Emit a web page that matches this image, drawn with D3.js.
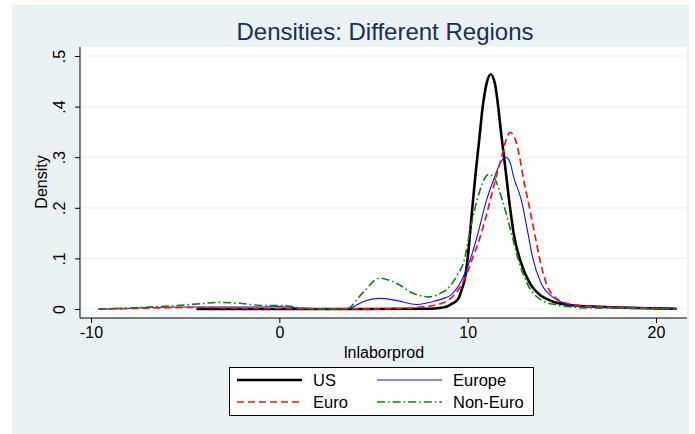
<!DOCTYPE html>
<html>
<head>
<meta charset="utf-8">
<script src="https://cdn.jsdelivr.net/npm/d3@7/dist/d3.min.js"></script>
<style>
  body { margin: 0; background: #ffffff; }
  svg { display: block; font-family: "Liberation Sans", Arial, Helvetica, sans-serif; }
</style>
</head>
<body>
<svg id="chart" width="695" height="434"></svg>
<script>
// ---------------- data ----------------
const seriesNames = ["US", "Europe", "Euro", "Non-Euro"];

const usX = [-4.4, 0, 4, 8, 8.5, 8.9, 9.2, 9.5, 9.7, 9.85, 10.0, 10.2, 10.4, 10.6, 10.8, 11.0, 11.22, 11.45, 11.62, 11.8, 11.95, 12.2, 12.44, 12.8, 13.3, 13.9, 14.5, 15.2, 16, 17, 18, 19, 20, 21.1];
const usY = [0, 0, 0, 0.0005, 0.002, 0.005, 0.011, 0.02, 0.04, 0.06, 0.1, 0.18, 0.26, 0.33, 0.4, 0.445, 0.464, 0.445, 0.4, 0.34, 0.295, 0.215, 0.15, 0.095, 0.051, 0.026, 0.015, 0.009, 0.006, 0.0045, 0.003, 0.002, 0.0012, 0.0005];

const europeX = [-9.6, -8, -7, -5, -3, -1, 0, 0.5, 1, 2, 3.6, 4.45, 5.3, 6.2, 7.3, 8.3, 8.8, 9.05, 9.3, 9.58, 9.9, 10.2, 10.55, 11.0, 11.43, 11.75, 12.02, 12.25, 12.44, 12.85, 13.2, 13.46, 13.9, 14.5, 15.2, 16, 17, 18, 19, 20, 21.1];
const europeY = [0, 0.001, 0.003, 0.004, 0.004, 0.004, 0.005, 0.004, 0.002, 0.001, 0.0005, 0.0145, 0.021, 0.017, 0.009, 0.016, 0.022, 0.026, 0.035, 0.05, 0.075, 0.105, 0.15, 0.215, 0.261, 0.29, 0.3, 0.29, 0.261, 0.215, 0.15, 0.1, 0.051, 0.024, 0.011, 0.006, 0.004, 0.003, 0.002, 0.0012, 0.0005];

const euroX = [-9.6, -8, -6.5, -5, -4, -3, -2, -1, 0, 1, 2, 4, 6, 7.3, 8.3, 9.0, 9.5, 9.9, 10.25, 10.73, 11.2, 11.5, 11.8, 12.03, 12.25, 12.48, 12.76, 13.0, 13.2, 13.55, 13.82, 14.17, 14.7, 15.3, 16, 17, 18, 19, 20, 21.1];
const euroY = [0, 0.001, 0.002, 0.003, 0.003, 0.002, 0.0015, 0.001, 0.001, 0.0005, 0.0003, 0.0003, 0.0005, 0.003, 0.008, 0.018, 0.038, 0.065, 0.1, 0.15, 0.215, 0.26, 0.3, 0.333, 0.349, 0.34, 0.3, 0.25, 0.215, 0.15, 0.1, 0.051, 0.021, 0.011, 0.006, 0.004, 0.003, 0.002, 0.0012, 0.0005];

const nonEuroX = [-9.6, -8, -7.4, -6.3, -5, -4, -3.2, -2, -1, 0, 0.5, 1.1, 2, 3.56, 4.45, 5.32, 6.22, 7.1, 7.98, 8.5, 8.87, 9.4, 9.84, 10.1, 10.5, 10.8, 11.13, 11.4, 11.84, 12.32, 12.67, 13.15, 13.9, 14.7, 15.5, 16.5, 18, 20, 21.1];
const nonEuroY = [0, 0.002, 0.003, 0.005, 0.008, 0.011, 0.013, 0.011, 0.007, 0.007, 0.006, 0.002, 0.0005, 0.0005, 0.033, 0.061, 0.051, 0.031, 0.024, 0.03, 0.038, 0.064, 0.1, 0.15, 0.215, 0.25, 0.266, 0.26, 0.215, 0.15, 0.1, 0.051, 0.018, 0.008, 0.004, 0.002, 0.0015, 0.001, 0.0005];

const xTicks = [-10, 0, 10, 20];
const xTickLabels = ["-10", "0", "10", "20"];
const yTicks = [0, 0.1, 0.2, 0.3, 0.4, 0.5];
const yTickLabels = ["0", ".1", ".2", ".3", ".4", ".5"];

const titleText = "Densities: Different Regions";
const xTitle = "lnlaborprod";
const yTitle = "Density";

// ---------------- layout ----------------
const svg = d3.select("#chart");
const bg = "#EAF2F3";
const plotL = 80, plotR = 687, plotT = 47, plotB = 318;

svg.append("rect").attr("x", 12).attr("y", 5).attr("width", 677).attr("height", 429).attr("fill", bg);
svg.append("rect").attr("x", plotL).attr("y", plotT).attr("width", plotR - plotL).attr("height", plotB - plotT).attr("fill", "#ffffff");

const x = d3.scaleLinear().domain([-10, 20]).range([91, 656]);
const y = d3.scaleLinear().domain([0, 0.5]).range([309, 56]);

// grid
svg.append("g").selectAll("line").data(yTicks).join("line")
  .attr("x1", plotL).attr("x2", plotR)
  .attr("y1", d => y(d)).attr("y2", d => y(d))
  .attr("stroke", bg).attr("stroke-width", 1.2);

// series
const series = [
  { name: seriesNames[0], xs: usX, ys: usY, color: "#000000", width: 2.6, dash: null },
  { name: seriesNames[1], xs: europeX, ys: europeY, color: "#1010ff", width: 1.1, dash: null },
  { name: seriesNames[2], xs: euroX, ys: euroY, color: "#ff1010", width: 1.7, dash: "7,4" },
  { name: seriesNames[3], xs: nonEuroX, ys: nonEuroY, color: "#108010", width: 1.6, dash: "8,3,1.6,3" }
];

const line = d3.line().x(d => x(d[0])).y(d => y(d[1])).curve(d3.curveMonotoneX);

svg.append("g").selectAll("path").data(series).join("path")
  .attr("d", s => line(s.xs.map((v, i) => [v, s.ys[i]])))
  .attr("fill", "none")
  .attr("stroke", s => s.color)
  .attr("stroke-width", s => s.width)
  .attr("stroke-dasharray", s => s.dash)
  .attr("stroke-linejoin", "round");

// axes
const xAxis = d3.axisBottom(x).tickValues(xTicks).tickFormat((d, i) => xTickLabels[i]).tickSize(5).tickSizeOuter(0);
const gx = svg.append("g").attr("transform", `translate(0,${plotB})`).call(xAxis);
gx.select(".domain").remove();
gx.selectAll(".tick line").attr("stroke", "#000");
gx.selectAll(".tick text").attr("font-size", 16).attr("fill", "#000").attr("y", 9).attr("dy", "0.71em");

const yAxis = d3.axisLeft(y).tickValues(yTicks).tickFormat((d, i) => yTickLabels[i]).tickSize(5).tickSizeOuter(0);
const gy = svg.append("g").attr("transform", `translate(${plotL},0)`).call(yAxis);
gy.select(".domain").remove();
gy.selectAll(".tick line").attr("stroke", "#000");
gy.selectAll(".tick text")
  .attr("font-size", 16).attr("fill", "#000")
  .attr("text-anchor", "middle")
  .attr("x", 0).attr("y", -15).attr("dy", null)
  .attr("transform", "rotate(-90)");

svg.append("line").attr("x1", plotL).attr("x2", plotR).attr("y1", plotB).attr("y2", plotB).attr("stroke", "#000").attr("stroke-width", 1);
svg.append("line").attr("x1", plotL).attr("x2", plotL).attr("y1", plotT).attr("y2", plotB).attr("stroke", "#000").attr("stroke-width", 1);

// titles
svg.append("text").attr("x", 385).attr("y", 40).attr("text-anchor", "middle")
  .attr("font-size", 24).attr("fill", "#1c2e55").text(titleText);
svg.append("text").attr("x", 384).attr("y", 358).attr("text-anchor", "middle")
  .attr("font-size", 16).attr("fill", "#000").text(xTitle);
svg.append("text").attr("transform", "translate(47,182) rotate(-90)").attr("text-anchor", "middle")
  .attr("font-size", 16).attr("fill", "#000").text(yTitle);

// legend
const lg = svg.append("g");
lg.append("rect").attr("x", 229.5).attr("y", 367.5).attr("width", 304).attr("height", 48)
  .attr("fill", "#fff").attr("stroke", "#000").attr("stroke-width", 1);
const legPos = [
  { lx: 237, ty: 380 }, { lx: 377, ty: 380 }, { lx: 237, ty: 402 }, { lx: 377, ty: 402 }
];
series.forEach((s, i) => {
  const p = legPos[i];
  lg.append("line").attr("x1", p.lx).attr("x2", p.lx + 65).attr("y1", p.ty).attr("y2", p.ty)
    .attr("stroke", s.color).attr("stroke-width", s.width).attr("stroke-dasharray", s.dash);
  lg.append("text").attr("x", p.lx + 76).attr("y", p.ty + 6).attr("font-size", 16.5).attr("fill", "#000").text(s.name);
});
</script>
</body>
</html>
